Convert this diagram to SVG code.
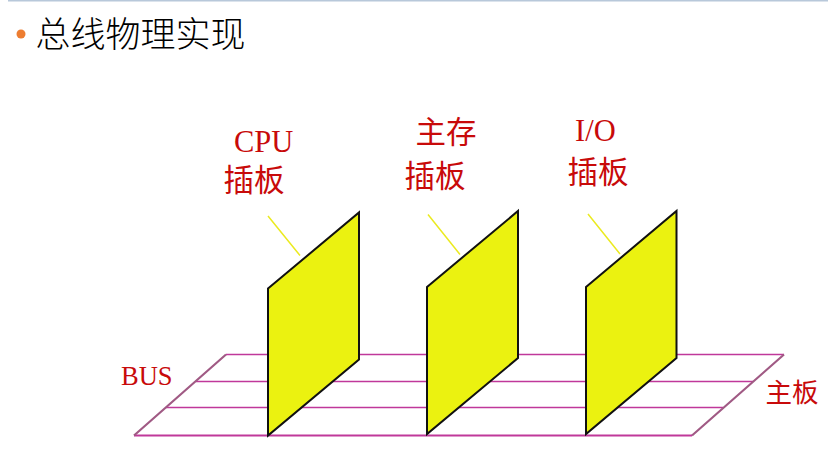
<svg xmlns="http://www.w3.org/2000/svg" width="828" height="455" viewBox="0 0 828 455">
<style>
text{font-family:"Liberation Serif","Noto Sans CJK SC",serif;fill:#c80a0a}
.cjk{font-family:"Noto Sans CJK SC","Liberation Serif",serif;font-weight:400}
.l30{font-size:30.500px}
.l26{font-size:26.500px}
.rail{stroke:#c0389a;stroke-width:1.500;fill:none}
.edge{stroke:#a05a84;stroke-width:2.200;fill:none}
.card{fill:#ebf210;stroke:#111;stroke-width:2;stroke-linejoin:miter}
.lead{stroke:#ebea20;stroke-width:1.500;fill:none}
</style>
<rect width="828" height="455" fill="#fff"/>
<rect x="8" y="0" width="820" height="1.500" fill="#b8c8da"/>
<g id="title">
<circle cx="21" cy="34" r="4.500" fill="#ed7d31"/>
<text class="cjk" x="35.500" y="47" font-size="35" style="fill:#000;font-weight:300">总线物理实现</text>
</g>
<g id="connectors">
<path class="rail" d="M226 354.500H784M196 381.500H753M166 407.500H723"/>
<path class="rail" style="stroke-width:2.200" d="M134 435.500H692"/>
<path class="edge" d="M134 435.500L226 354.500M692 435.500L784 354.500"/>
<path class="lead" d="M268 216L300 255.500M428 214.500L460 254.500M588 214L620 254"/>
</g>
<g id="cpu-card"><polygon class="card" points="268,288.500 359,212.500 359,359.500 268,435.500"/></g>
<g id="mem-card"><polygon class="card" points="427,287 518,211 518,358 427,434"/></g>
<g id="io-card"><polygon class="card" points="586,287 676.500,211 676.500,358 586,434"/></g>
<g id="cpu-label"><text class="l30" x="234" y="152">CPU</text><text class="cjk l30" x="223.500" y="191">插板</text></g>
<g id="mem-label"><text class="cjk l30" x="415.500" y="143">主存</text><text class="cjk l30" x="404.500" y="187">插板</text></g>
<g id="io-label"><text class="l30" x="575" y="141">I/O</text><text class="cjk l30" x="567.500" y="183">插板</text></g>
<g id="bus-label"><text class="l26" x="121" y="385">BUS</text></g>
<g id="board-label"><text class="cjk l26" x="765.500" y="402">主板</text></g>
</svg>
